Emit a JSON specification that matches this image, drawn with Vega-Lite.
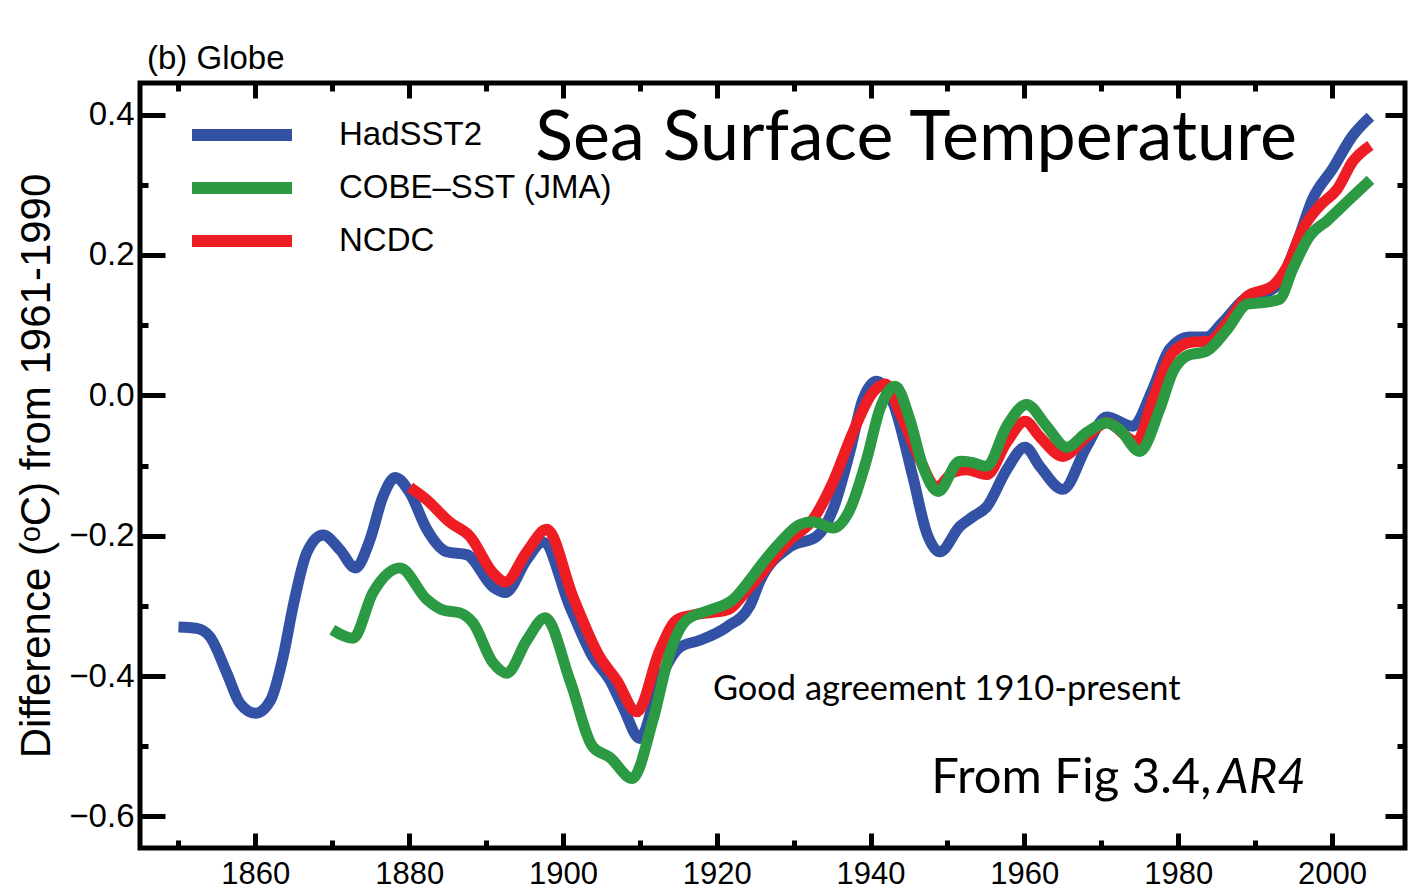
{
  "$schema": "https://vega.github.io/schema/vega-lite/v6.json",
  "width": 1265,
  "height": 765,
  "autosize": {"type": "none"},
  "padding": {"left": 140, "top": 83, "right": 3, "bottom": 41},
  "background": "white",
  "config": {
    "view": {"stroke": "black", "strokeWidth": 5},
    "font": "Liberation Sans",
    "axis": {
      "domain": false,
      "grid": false,
      "tickColor": "black",
      "tickWidth": 5,
      "labelColor": "black",
      "labelFont": "Liberation Sans",
      "labelFontSize": 31,
      "titleColor": "black",
      "titleFont": "Liberation Sans",
      "titleFontWeight": "normal"
    }
  },
  "title": {
    "text": "(b) Globe",
    "anchor": "start",
    "frame": "group",
    "font": "Liberation Sans",
    "fontSize": 33,
    "fontWeight": "normal",
    "color": "black",
    "offset": 5,
    "dx": 7
  },
  "datasets": {
    "sst": [
      {"dataset": "HadSST2", "year": 1850, "anomaly": -0.33},
      {"dataset": "HadSST2", "year": 1852.4, "anomaly": -0.332},
      {"dataset": "HadSST2", "year": 1854.1, "anomaly": -0.344},
      {"dataset": "HadSST2", "year": 1856.3, "anomaly": -0.396},
      {"dataset": "HadSST2", "year": 1858, "anomaly": -0.439},
      {"dataset": "HadSST2", "year": 1860, "anomaly": -0.453},
      {"dataset": "HadSST2", "year": 1862, "anomaly": -0.434},
      {"dataset": "HadSST2", "year": 1863.6, "anomaly": -0.373},
      {"dataset": "HadSST2", "year": 1864.9, "anomaly": -0.301},
      {"dataset": "HadSST2", "year": 1866.7, "anomaly": -0.224},
      {"dataset": "HadSST2", "year": 1868.8, "anomaly": -0.199},
      {"dataset": "HadSST2", "year": 1871, "anomaly": -0.22},
      {"dataset": "HadSST2", "year": 1873, "anomaly": -0.246},
      {"dataset": "HadSST2", "year": 1874.9, "anomaly": -0.206},
      {"dataset": "HadSST2", "year": 1876.6, "anomaly": -0.144},
      {"dataset": "HadSST2", "year": 1878.2, "anomaly": -0.117},
      {"dataset": "HadSST2", "year": 1880.1, "anomaly": -0.139},
      {"dataset": "HadSST2", "year": 1882.3, "anomaly": -0.191},
      {"dataset": "HadSST2", "year": 1884.9, "anomaly": -0.223},
      {"dataset": "HadSST2", "year": 1887.5, "anomaly": -0.227},
      {"dataset": "HadSST2", "year": 1890.9, "anomaly": -0.273},
      {"dataset": "HadSST2", "year": 1892.5, "anomaly": -0.281},
      {"dataset": "HadSST2", "year": 1895.3, "anomaly": -0.234},
      {"dataset": "HadSST2", "year": 1897.4, "anomaly": -0.209},
      {"dataset": "HadSST2", "year": 1900.9, "anomaly": -0.301},
      {"dataset": "HadSST2", "year": 1903.9, "anomaly": -0.373},
      {"dataset": "HadSST2", "year": 1906.1, "anomaly": -0.406},
      {"dataset": "HadSST2", "year": 1907.8, "anomaly": -0.444},
      {"dataset": "HadSST2", "year": 1910, "anomaly": -0.489},
      {"dataset": "HadSST2", "year": 1912.6, "anomaly": -0.406},
      {"dataset": "HadSST2", "year": 1915.2, "anomaly": -0.359},
      {"dataset": "HadSST2", "year": 1917.8, "anomaly": -0.349},
      {"dataset": "HadSST2", "year": 1921.3, "anomaly": -0.33},
      {"dataset": "HadSST2", "year": 1924.3, "anomaly": -0.3},
      {"dataset": "HadSST2", "year": 1925.6, "anomaly": -0.265},
      {"dataset": "HadSST2", "year": 1929.5, "anomaly": -0.216},
      {"dataset": "HadSST2", "year": 1933, "anomaly": -0.201},
      {"dataset": "HadSST2", "year": 1935.1, "anomaly": -0.163},
      {"dataset": "HadSST2", "year": 1937.3, "anomaly": -0.081},
      {"dataset": "HadSST2", "year": 1939, "anomaly": -0.006},
      {"dataset": "HadSST2", "year": 1940.8, "anomaly": 0.02},
      {"dataset": "HadSST2", "year": 1942.9, "anomaly": -0.01},
      {"dataset": "HadSST2", "year": 1945.5, "anomaly": -0.116},
      {"dataset": "HadSST2", "year": 1947.3, "anomaly": -0.196},
      {"dataset": "HadSST2", "year": 1949, "anomaly": -0.223},
      {"dataset": "HadSST2", "year": 1951.6, "anomaly": -0.187},
      {"dataset": "HadSST2", "year": 1953.3, "anomaly": -0.173},
      {"dataset": "HadSST2", "year": 1955.1, "anomaly": -0.159},
      {"dataset": "HadSST2", "year": 1957.7, "anomaly": -0.106},
      {"dataset": "HadSST2", "year": 1960.1, "anomaly": -0.074},
      {"dataset": "HadSST2", "year": 1962, "anomaly": -0.101},
      {"dataset": "HadSST2", "year": 1965, "anomaly": -0.134},
      {"dataset": "HadSST2", "year": 1968.1, "anomaly": -0.073},
      {"dataset": "HadSST2", "year": 1970.7, "anomaly": -0.031},
      {"dataset": "HadSST2", "year": 1974.1, "anomaly": -0.044},
      {"dataset": "HadSST2", "year": 1976.7, "anomaly": 0.009},
      {"dataset": "HadSST2", "year": 1978.9, "anomaly": 0.066},
      {"dataset": "HadSST2", "year": 1981.5, "anomaly": 0.083},
      {"dataset": "HadSST2", "year": 1983.7, "anomaly": 0.083},
      {"dataset": "HadSST2", "year": 1985.8, "anomaly": 0.104},
      {"dataset": "HadSST2", "year": 1989, "anomaly": 0.14},
      {"dataset": "HadSST2", "year": 1991.6, "anomaly": 0.147},
      {"dataset": "HadSST2", "year": 1993.2, "anomaly": 0.161},
      {"dataset": "HadSST2", "year": 1995.5, "anomaly": 0.219},
      {"dataset": "HadSST2", "year": 1997.5, "anomaly": 0.28},
      {"dataset": "HadSST2", "year": 2000.1, "anomaly": 0.323},
      {"dataset": "HadSST2", "year": 2002.7, "anomaly": 0.37},
      {"dataset": "HadSST2", "year": 2005, "anomaly": 0.397},

      {"dataset": "NCDC", "year": 1880.1, "anomaly": -0.131},
      {"dataset": "NCDC", "year": 1882.3, "anomaly": -0.149},
      {"dataset": "NCDC", "year": 1885.3, "anomaly": -0.181},
      {"dataset": "NCDC", "year": 1887.9, "anomaly": -0.201},
      {"dataset": "NCDC", "year": 1890.9, "anomaly": -0.253},
      {"dataset": "NCDC", "year": 1892.5, "anomaly": -0.266},
      {"dataset": "NCDC", "year": 1895.3, "anomaly": -0.223},
      {"dataset": "NCDC", "year": 1897.9, "anomaly": -0.191},
      {"dataset": "NCDC", "year": 1901.3, "anomaly": -0.287},
      {"dataset": "NCDC", "year": 1904.8, "anomaly": -0.373},
      {"dataset": "NCDC", "year": 1907, "anomaly": -0.406},
      {"dataset": "NCDC", "year": 1909.6, "anomaly": -0.451},
      {"dataset": "NCDC", "year": 1912.6, "anomaly": -0.363},
      {"dataset": "NCDC", "year": 1914.8, "anomaly": -0.32},
      {"dataset": "NCDC", "year": 1916.9, "anomaly": -0.313},
      {"dataset": "NCDC", "year": 1921.3, "anomaly": -0.306},
      {"dataset": "NCDC", "year": 1924.3, "anomaly": -0.273},
      {"dataset": "NCDC", "year": 1929.5, "anomaly": -0.206},
      {"dataset": "NCDC", "year": 1932.5, "anomaly": -0.177},
      {"dataset": "NCDC", "year": 1935.1, "anomaly": -0.124},
      {"dataset": "NCDC", "year": 1937.7, "anomaly": -0.053},
      {"dataset": "NCDC", "year": 1940.3, "anomaly": 0.004},
      {"dataset": "NCDC", "year": 1941.9, "anomaly": 0.016},
      {"dataset": "NCDC", "year": 1943.8, "anomaly": -0.024},
      {"dataset": "NCDC", "year": 1946.4, "anomaly": -0.091},
      {"dataset": "NCDC", "year": 1948.6, "anomaly": -0.131},
      {"dataset": "NCDC", "year": 1950.7, "anomaly": -0.11},
      {"dataset": "NCDC", "year": 1952.5, "anomaly": -0.106},
      {"dataset": "NCDC", "year": 1955.1, "anomaly": -0.113},
      {"dataset": "NCDC", "year": 1957.7, "anomaly": -0.067},
      {"dataset": "NCDC", "year": 1960.1, "anomaly": -0.037},
      {"dataset": "NCDC", "year": 1962, "anomaly": -0.059},
      {"dataset": "NCDC", "year": 1965, "anomaly": -0.087},
      {"dataset": "NCDC", "year": 1968.1, "anomaly": -0.059},
      {"dataset": "NCDC", "year": 1970.7, "anomaly": -0.039},
      {"dataset": "NCDC", "year": 1974.6, "anomaly": -0.066},
      {"dataset": "NCDC", "year": 1976.7, "anomaly": -0.006},
      {"dataset": "NCDC", "year": 1979.3, "anomaly": 0.061},
      {"dataset": "NCDC", "year": 1981.9, "anomaly": 0.076},
      {"dataset": "NCDC", "year": 1984.1, "anomaly": 0.077},
      {"dataset": "NCDC", "year": 1986.4, "anomaly": 0.104},
      {"dataset": "NCDC", "year": 1989, "anomaly": 0.141},
      {"dataset": "NCDC", "year": 1992.3, "anomaly": 0.156},
      {"dataset": "NCDC", "year": 1994.2, "anomaly": 0.184},
      {"dataset": "NCDC", "year": 1996.2, "anomaly": 0.237},
      {"dataset": "NCDC", "year": 1998.4, "anomaly": 0.27},
      {"dataset": "NCDC", "year": 2000.7, "anomaly": 0.294},
      {"dataset": "NCDC", "year": 2002.7, "anomaly": 0.333},
      {"dataset": "NCDC", "year": 2005, "anomaly": 0.356},

      {"dataset": "COBE–SST (JMA)", "year": 1870, "anomaly": -0.334},
      {"dataset": "COBE–SST (JMA)", "year": 1872.7, "anomaly": -0.346},
      {"dataset": "COBE–SST (JMA)", "year": 1875.3, "anomaly": -0.281},
      {"dataset": "COBE–SST (JMA)", "year": 1878.8, "anomaly": -0.246},
      {"dataset": "COBE–SST (JMA)", "year": 1882.3, "anomaly": -0.291},
      {"dataset": "COBE–SST (JMA)", "year": 1884.4, "anomaly": -0.306},
      {"dataset": "COBE–SST (JMA)", "year": 1886.6, "anomaly": -0.31},
      {"dataset": "COBE–SST (JMA)", "year": 1888.3, "anomaly": -0.324},
      {"dataset": "COBE–SST (JMA)", "year": 1890.9, "anomaly": -0.381},
      {"dataset": "COBE–SST (JMA)", "year": 1892.7, "anomaly": -0.396},
      {"dataset": "COBE–SST (JMA)", "year": 1895.3, "anomaly": -0.349},
      {"dataset": "COBE–SST (JMA)", "year": 1897.7, "anomaly": -0.317},
      {"dataset": "COBE–SST (JMA)", "year": 1900.9, "anomaly": -0.406},
      {"dataset": "COBE–SST (JMA)", "year": 1903.9, "anomaly": -0.501},
      {"dataset": "COBE–SST (JMA)", "year": 1906.1, "anomaly": -0.516},
      {"dataset": "COBE–SST (JMA)", "year": 1909, "anomaly": -0.546},
      {"dataset": "COBE–SST (JMA)", "year": 1911.7, "anomaly": -0.463},
      {"dataset": "COBE–SST (JMA)", "year": 1913.9, "anomaly": -0.367},
      {"dataset": "COBE–SST (JMA)", "year": 1916.1, "anomaly": -0.32},
      {"dataset": "COBE–SST (JMA)", "year": 1919.1, "anomaly": -0.306},
      {"dataset": "COBE–SST (JMA)", "year": 1922.1, "anomaly": -0.291},
      {"dataset": "COBE–SST (JMA)", "year": 1924.3, "anomaly": -0.263},
      {"dataset": "COBE–SST (JMA)", "year": 1925.6, "anomaly": -0.244},
      {"dataset": "COBE–SST (JMA)", "year": 1928.2, "anomaly": -0.21},
      {"dataset": "COBE–SST (JMA)", "year": 1930.8, "anomaly": -0.184},
      {"dataset": "COBE–SST (JMA)", "year": 1932.5, "anomaly": -0.18},
      {"dataset": "COBE–SST (JMA)", "year": 1935.1, "anomaly": -0.189},
      {"dataset": "COBE–SST (JMA)", "year": 1937.3, "anomaly": -0.163},
      {"dataset": "COBE–SST (JMA)", "year": 1939.5, "anomaly": -0.091},
      {"dataset": "COBE–SST (JMA)", "year": 1941.2, "anomaly": -0.02},
      {"dataset": "COBE–SST (JMA)", "year": 1943.2, "anomaly": 0.013},
      {"dataset": "COBE–SST (JMA)", "year": 1945.1, "anomaly": -0.034},
      {"dataset": "COBE–SST (JMA)", "year": 1946.8, "anomaly": -0.101},
      {"dataset": "COBE–SST (JMA)", "year": 1948.8, "anomaly": -0.137},
      {"dataset": "COBE–SST (JMA)", "year": 1951.6, "anomaly": -0.094},
      {"dataset": "COBE–SST (JMA)", "year": 1953.3, "anomaly": -0.096},
      {"dataset": "COBE–SST (JMA)", "year": 1955.1, "anomaly": -0.101},
      {"dataset": "COBE–SST (JMA)", "year": 1957.7, "anomaly": -0.044},
      {"dataset": "COBE–SST (JMA)", "year": 1960.3, "anomaly": -0.013},
      {"dataset": "COBE–SST (JMA)", "year": 1962.9, "anomaly": -0.044},
      {"dataset": "COBE–SST (JMA)", "year": 1965.5, "anomaly": -0.074},
      {"dataset": "COBE–SST (JMA)", "year": 1968.1, "anomaly": -0.053},
      {"dataset": "COBE–SST (JMA)", "year": 1970.7, "anomaly": -0.039},
      {"dataset": "COBE–SST (JMA)", "year": 1972.4, "anomaly": -0.049},
      {"dataset": "COBE–SST (JMA)", "year": 1975, "anomaly": -0.08},
      {"dataset": "COBE–SST (JMA)", "year": 1977.6, "anomaly": -0.02},
      {"dataset": "COBE–SST (JMA)", "year": 1979.3, "anomaly": 0.033},
      {"dataset": "COBE–SST (JMA)", "year": 1981.1, "anomaly": 0.056},
      {"dataset": "COBE–SST (JMA)", "year": 1983.7, "anomaly": 0.063},
      {"dataset": "COBE–SST (JMA)", "year": 1986.4, "anomaly": 0.094},
      {"dataset": "COBE–SST (JMA)", "year": 1989, "anomaly": 0.13},
      {"dataset": "COBE–SST (JMA)", "year": 1991.6, "anomaly": 0.133},
      {"dataset": "COBE–SST (JMA)", "year": 1993.2, "anomaly": 0.137},
      {"dataset": "COBE–SST (JMA)", "year": 1994.9, "anomaly": 0.18},
      {"dataset": "COBE–SST (JMA)", "year": 1997.1, "anomaly": 0.227},
      {"dataset": "COBE–SST (JMA)", "year": 1999.4, "anomaly": 0.249},
      {"dataset": "COBE–SST (JMA)", "year": 2002, "anomaly": 0.276},
      {"dataset": "COBE–SST (JMA)", "year": 2005, "anomaly": 0.307}
    ]
  },
  "resolve": {"axis": {"x": "independent", "y": "independent"}},
  "layer": [
    {
      "mark": {"type": "rule", "color": "black", "strokeWidth": 2},
      "encoding": {
        "y": {"datum": 0, "type": "quantitative", "scale": {"domain": [-0.645, 0.445], "nice": false, "zero": false}, "axis": null}
      }
    },
    {
      "data": {"name": "sst"},
      "transform": [{"filter": "datum.dataset === 'HadSST2'"}],
      "mark": {"type": "line", "strokeWidth": 11, "interpolate": "monotone", "strokeCap": "butt", "strokeJoin": "round"},
      "encoding": {
        "x": {
          "field": "year", "type": "quantitative",
          "scale": {"domain": [1845, 2009.5], "nice": false, "zero": false},
          "axis": {
            "orient": "bottom", "title": null,
            "values": [1850, 1860, 1870, 1880, 1890, 1900, 1910, 1920, 1930, 1940, 1950, 1960, 1970, 1980, 1990, 2000],
            "labelExpr": "datum.value % 20 === 0 ? datum.value : ''",
            "tickSize": {"condition": {"test": "datum.value % 20 === 0", "value": -15}, "value": -8},
            "labelPadding": 26,
            "labelFlush": false,
            "labelOverlap": false
          }
        },
        "y": {
          "field": "anomaly", "type": "quantitative",
          "scale": {"domain": [-0.645, 0.445], "nice": false, "zero": false},
          "axis": {
            "orient": "left",
            "title": "Difference (ᵒC) from 1961-1990",
            "titleFontSize": 42,
            "titlePadding": 10,
            "values": [-0.6, -0.5, -0.4, -0.3, -0.2, -0.1, 0, 0.1, 0.2, 0.3, 0.4],
            "format": ".1f",
            "labelExpr": "abs(round(datum.value * 10)) % 2 === 0 ? datum.label : ''",
            "labelFontSize": 33,
            "tickSize": {"condition": {"test": "abs(round(datum.value * 10)) % 2 === 0", "value": -25}, "value": -8},
            "labelPadding": 31,
            "labelFlush": false,
            "labelOverlap": false
          }
        },
        "color": {
          "field": "dataset", "type": "nominal",
          "scale": {"domain": ["HadSST2", "COBE–SST (JMA)", "NCDC"], "range": ["#3351a5", "#2b9a42", "#ee1d24"]},
          "legend": {
            "orient": "none", "legendX": 46, "legendY": 37, "title": null, "padding": 0,
            "symbolType": "stroke", "symbolSize": 10000, "symbolStrokeWidth": 12,
            "clipHeight": 30,
            "labelFont": "Liberation Sans", "labelFontSize": 33, "labelColor": "black",
            "labelOffset": 41, "rowPadding": 20, "labelLimit": 0
          }
        }
      }
    },
    {
      "data": {"name": "sst"},
      "transform": [{"filter": "datum.dataset === 'NCDC'"}],
      "mark": {"type": "line", "strokeWidth": 11, "interpolate": "monotone", "strokeCap": "butt", "strokeJoin": "round"},
      "encoding": {
        "x": {
          "field": "year", "type": "quantitative",
          "scale": {"domain": [1845, 2009.5], "nice": false, "zero": false},
          "axis": {
            "orient": "top", "title": null, "labels": false,
            "values": [1850, 1860, 1870, 1880, 1890, 1900, 1910, 1920, 1930, 1940, 1950, 1960, 1970, 1980, 1990, 2000],
            "tickSize": {"condition": {"test": "datum.value % 20 === 0", "value": -15}, "value": -8}
          }
        },
        "y": {
          "field": "anomaly", "type": "quantitative",
          "scale": {"domain": [-0.645, 0.445], "nice": false, "zero": false},
          "axis": {
            "orient": "right", "title": null, "labels": false,
            "values": [-0.6, -0.5, -0.4, -0.3, -0.2, -0.1, 0, 0.1, 0.2, 0.3, 0.4],
            "tickSize": {"condition": {"test": "abs(round(datum.value * 10)) % 2 === 0", "value": -20}, "value": -8}
          }
        },
        "color": {"field": "dataset", "type": "nominal", "scale": {"domain": ["HadSST2", "COBE–SST (JMA)", "NCDC"], "range": ["#3351a5", "#2b9a42", "#ee1d24"]}}
      }
    },
    {
      "data": {"name": "sst"},
      "transform": [{"filter": "datum.dataset === 'COBE–SST (JMA)'"}],
      "mark": {"type": "line", "strokeWidth": 11, "interpolate": "monotone", "strokeCap": "butt", "strokeJoin": "round"},
      "encoding": {
        "x": {"field": "year", "type": "quantitative", "scale": {"domain": [1845, 2009.5], "nice": false, "zero": false}, "axis": null},
        "y": {"field": "anomaly", "type": "quantitative", "scale": {"domain": [-0.645, 0.445], "nice": false, "zero": false}, "axis": null},
        "color": {"field": "dataset", "type": "nominal", "scale": {"domain": ["HadSST2", "COBE–SST (JMA)", "NCDC"], "range": ["#3351a5", "#2b9a42", "#ee1d24"]}}
      }
    },
    {
      "data": {"values": [{}]},
      "mark": {"type": "text", "text": "Sea Surface Temperature", "font": "Lato", "fontSize": 70, "align": "left", "baseline": "alphabetic", "color": "black"},
      "encoding": {
        "x": {"datum": 1896.4, "type": "quantitative", "axis": null},
        "y": {"datum": 0.335, "type": "quantitative", "axis": null}
      }
    },
    {
      "data": {"values": [{}]},
      "mark": {"type": "text", "text": "Good agreement 1910-present", "font": "Lato", "fontSize": 34.4, "align": "left", "baseline": "alphabetic", "color": "black"},
      "encoding": {
        "x": {"datum": 1919.5, "type": "quantitative", "axis": null},
        "y": {"datum": -0.434, "type": "quantitative", "axis": null}
      }
    },
    {
      "data": {"values": [{}]},
      "mark": {"type": "text", "text": "From Fig 3.4,", "font": "Lato", "fontSize": 49, "align": "left", "baseline": "alphabetic", "color": "black"},
      "encoding": {
        "x": {"datum": 1947.9, "type": "quantitative", "axis": null},
        "y": {"datum": -0.566, "type": "quantitative", "axis": null}
      }
    },
    {
      "data": {"values": [{}]},
      "mark": {"type": "text", "text": "AR4", "font": "Lato", "fontSize": 49, "fontStyle": "italic", "align": "right", "baseline": "alphabetic", "color": "black"},
      "encoding": {
        "x": {"datum": 1996.6, "type": "quantitative", "axis": null},
        "y": {"datum": -0.566, "type": "quantitative", "axis": null}
      }
    }
  ]
}
